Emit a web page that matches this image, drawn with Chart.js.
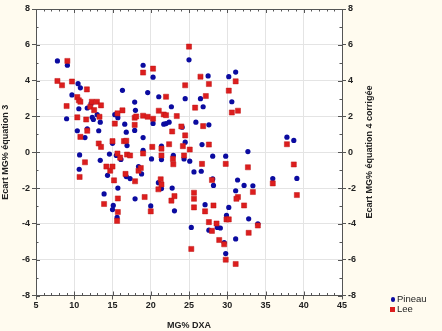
<!DOCTYPE html>
<html><head><meta charset="utf-8">
<script src="https://cdn.jsdelivr.net/npm/chart.js@4/dist/chart.umd.min.js"></script>
<style>
html,body{margin:0;padding:0;background:#FFFBEF;}
#wrap{position:relative;width:442px;height:331px;overflow:hidden;background:#FFFBEF;}
#c{position:absolute;left:0;top:0;}
.t{position:absolute;font-family:"Liberation Sans",Arial,sans-serif;color:#222;white-space:nowrap;line-height:1;}
#rtitle{left:369px;top:152px;font-weight:bold;font-size:9px;transform:translate(-50%,-50%) rotate(-90deg);}
.lg{font-size:9.5px;}
.mk{position:absolute;}
</style></head>
<body><div id="wrap"><canvas id="c" width="442" height="331"></canvas>
<div class="t" id="rtitle">Ecart MG% équation 4 corrigée</div>
<div class="mk" style="left:390.5px;top:297px;width:4.5px;height:4.5px;border-radius:50%;background:#0b0ba0;"></div>
<div class="t lg" style="left:397px;top:294px;">Pineau</div>
<div class="mk" style="left:390px;top:306.5px;width:5px;height:5px;background:#dc1e1e;"></div>
<div class="t lg" style="left:397px;top:304px;">Lee</div>
</div>
<script>
const seriesNames = ["Pineau", "Lee"];
const xLabel = "MG% DXA";
const yLabel = "Ecart MG% équation 3";
const xTickValues = [5, 10, 15, 20, 25, 30, 35, 40, 45];
const yTickValues = [-8, -6, -4, -2, 0, 2, 4, 6, 8];

const pineauX = [7.8,9.1,9.7,9.0,10.5,10.8,10.6,10.4,11.4,11.7,11.7,12.2,12.35,12.5,13.0,13.4,13.2,10.7,13.4,14.6,15.0,15.3,15.7,16.3,16.6,16.8,16.9,15.5,16.1,17.9,18.0,17.9,19.0,19.0,20.3,19.6,20.3,19.0,20.1,21.05,21.7,22.0,21.4,22.4,22.7,24.1,24.5,25.0,24.5,25.1,25.9,26.5,26.85,26.7,27.5,27.6,28.1,30.2,31.1,30.6,37.8,38.7,32.7,29.8,21.4,22.95,24.35,
  31.35,32.2,33.35,31.1,35.95,39.1,30.2,29.9,32.8,34.0,29.1,31.1,29.6,29.8,10.65,14.35,15.7,13.9,15.1,15.0,15.6,16.8,17.3,17.95,18.4,18.8,20.0,21.0,21.4,22.8,23.1,25.65,26.6,25.3,28.2,28.1,27.1,27.6,28.7];
const pineauY = [5.1,4.86,3.2,1.87,3.83,3.6,2.43,1.2,0.82,1.3,2.47,2.71,1.95,1.83,2.1,1.68,1.2,-0.15,-0.45,-0.1,0.5,2.1,1.93,3.46,1.57,1.12,0.37,-0.18,-0.4,2.8,2.34,1.22,0.82,4.86,4.19,3.33,1.61,0.11,-0.37,3.1,1.57,1.6,0.35,1.68,2.54,1.4,0.56,5.16,2.99,-0.5,1.68,2.99,2.54,0.43,4.26,1.53,-0.22,4.22,4.48,2.82,0.84,0.66,0.04,-0.22,-0.41,-0.18,-0.37,
  -1.55,-1.85,-1.87,-2.15,-1.47,-1.46,-3.08,-3.53,-3.72,-4.0,-4.23,-4.84,-5.04,-5.66,-0.95,-1.29,-2.0,-2.33,-2.97,-3.2,-3.64,-1.36,-1.47,-2.6,-0.8,-1.21,-3.0,-1.7,-2.03,-2.0,-3.27,-1.1,-1.06,-4.2,-1.85,-1.49,-2.93,-4.35,-4.2];

const leeX = [9.1,7.8,8.4,9.7,9.0,10.4,10.6,10.8,11.65,10.4,10.8,11.7,11.56,12.1,12.3,12.96,13.5,12.6,13.3,13.2,13.5,11.4,15.0,15.3,15.65,16.3,16.5,16.8,15.65,16.0,16.9,17.3,17.9,18.1,17.9,19.0,20.3,19.0,19.6,20.3,20.2,19.0,21.05,21.7,22.0,22.0,21.4,21.4,22.8,23.4,22.4,24.0,24.5,24.2,24.35,25.0,24.5,25.1,25.8,26.5,26.85,27.2,27.6,27.6,26.7,30.2,31.1,30.6,31.4,37.8,29.8,38.7,32.7,22.9,22.95,
  35.95,39.1,33.35,31.4,31.2,32.2,29.9,30.2,34.0,32.8,29.6,29.8,31.1,10.7,14.2,14.7,15.0,15.2,13.9,15.7,15.7,15.6,16.7,17.95,18.4,18.7,19.2,20.0,21.0,21.3,21.4,22.7,23.1,25.65,25.65,25.65,25.3,28.0,28.2,27.1,27.6,28.0,28.6,28.95];
const leeY = [5.1,3.98,3.74,3.95,2.58,3.08,2.9,2.82,3.51,1.95,0.86,1.2,1.83,2.54,2.82,2.82,2.62,2.35,1.98,0.49,0.3,-0.56,0.62,1.6,2.17,2.34,0.62,0.64,-0.07,-0.3,-0.13,-0.18,1.93,2.0,1.53,4.45,4.67,2.04,1.98,1.87,0.3,-0.07,2.32,2.11,3.1,2.07,0.2,-0.18,1.16,2.02,0.45,1.44,0.94,0.34,-0.18,5.9,3.74,0.15,2.49,4.22,1.46,3.14,3.81,0.43,-0.65,3.44,3.96,2.22,2.32,0.45,-0.65,-0.68,-0.84,-0.37,-0.67,
  -1.74,-2.39,-2.22,-2.5,-2.6,-2.97,-3.75,-3.75,-4.09,-4.5,-5.14,-6.0,-6.24,-1.38,-0.8,-1.03,-0.8,-1.57,-2.89,-2.58,-3.34,-3.83,-1.21,-1.62,-1.03,-0.88,-2.5,-3.3,-2.07,-1.51,-1.8,-2.7,-2.45,-2.26,-2.6,-3.08,-5.4,-1.55,-2.97,-3.3,-3.9,-4.39,-3.98,-4.9];

const toPts = (xs, ys) => xs.map((x, i) => ({x: x, y: ys[i]}));

const FONT = "'Liberation Sans', Arial, sans-serif";
const TXT = '#222';
const AX = '#555';

const decor = {
  id: 'decor',
  beforeDraw(chart) {
    const {ctx, chartArea: a} = chart;
    ctx.save();
    ctx.fillStyle = '#ffffff';
    ctx.fillRect(a.left, a.top, a.right - a.left, a.bottom - a.top);
    ctx.restore();
  },
  afterDraw(chart) {
    const {ctx, chartArea: a, scales} = chart;
    ctx.save();
    ctx.strokeStyle = AX;
    ctx.lineWidth = 1;
    ctx.beginPath();
    ctx.moveTo(a.left, a.top + 0.5); ctx.lineTo(a.right, a.top + 0.5);
    for (let v = 5; v <= 45; v += 1) {
      const px = Math.round(scales.x.getPixelForValue(v)) + 0.5;
      const len = (v % 5 === 0) ? 4 : 2.5;
      ctx.moveTo(px, a.bottom); ctx.lineTo(px, a.bottom - len);
      ctx.moveTo(px, a.top); ctx.lineTo(px, a.top + len);
    }
    for (let v = -8; v <= 8; v += 1) {
      const py = Math.round(scales.y.getPixelForValue(v)) + 0.5;
      const len = (v % 2 === 0) ? 4 : 2.5;
      ctx.moveTo(a.left, py); ctx.lineTo(a.left + len, py);
      ctx.moveTo(a.right, py); ctx.lineTo(a.right - len, py);
    }
    ctx.stroke();
    ctx.restore();
  }
};

new Chart(document.getElementById('c'), {
  type: 'scatter',
  data: {
    datasets: [
      {label: seriesNames[0], data: toPts(pineauX, pineauY), pointStyle: 'circle', pointRadius: 2.6, pointHoverRadius: 2.6,
       backgroundColor: '#0b0ba0', borderColor: '#0b0ba0', borderWidth: 0, order: 2},
      {label: seriesNames[1], data: toPts(leeX, leeY), pointStyle: 'rect', pointRadius: 3.6, pointHoverRadius: 3.6,
       backgroundColor: '#dc1e1e', borderColor: '#c01515', borderWidth: 0.5, order: 1}
    ]
  },
  options: {
    responsive: false, animation: false, devicePixelRatio: 1,
    layout: {padding: {top: 9, left: 0, right: 0, bottom: 0}},
    plugins: {legend: {display: false}, tooltip: {enabled: false}},
    scales: {
      x: {
        type: 'linear', min: 5, max: 45,
        afterBuildTicks: s => { s.ticks = xTickValues.map(v => ({value: v})); },
        ticks: {color: TXT, font: {family: FONT, size: 9, weight: 'bold'}, padding: 1, maxRotation: 0},
        grid: {color: '#e4e4e4', tickLength: 4, tickColor: AX},
        border: {color: AX},
        title: {display: true, text: xLabel, color: TXT, font: {family: FONT, size: 9, weight: 'bold'}, padding: {top: 2, bottom: 0}},
        afterFit: s => { s.height = 35.5; }
      },
      y: {
        type: 'linear', position: 'left', min: -8, max: 8,
        afterBuildTicks: s => { s.ticks = yTickValues.map(v => ({value: v})); },
        ticks: {color: TXT, font: {family: FONT, size: 9, weight: 'bold'}, padding: 2},
        grid: {color: '#e4e4e4', tickLength: 4, tickColor: AX},
        border: {color: AX},
        title: {display: true, text: yLabel, color: TXT, font: {family: FONT, size: 9, weight: 'bold'}, padding: {top: 0, bottom: 2}},
        afterFit: s => { s.width = 36; }
      },
      y2: {
        type: 'linear', position: 'right', min: -8, max: 8,
        afterBuildTicks: s => { s.ticks = yTickValues.map(v => ({value: v})); },
        ticks: {color: TXT, font: {family: FONT, size: 9, weight: 'bold'}, padding: 2},
        grid: {drawOnChartArea: false, tickLength: 4, tickColor: AX},
        border: {color: AX},
        afterFit: s => { s.width = 100; }
      }
    }
  },
  plugins: [decor]
});
</script>
</body></html>
